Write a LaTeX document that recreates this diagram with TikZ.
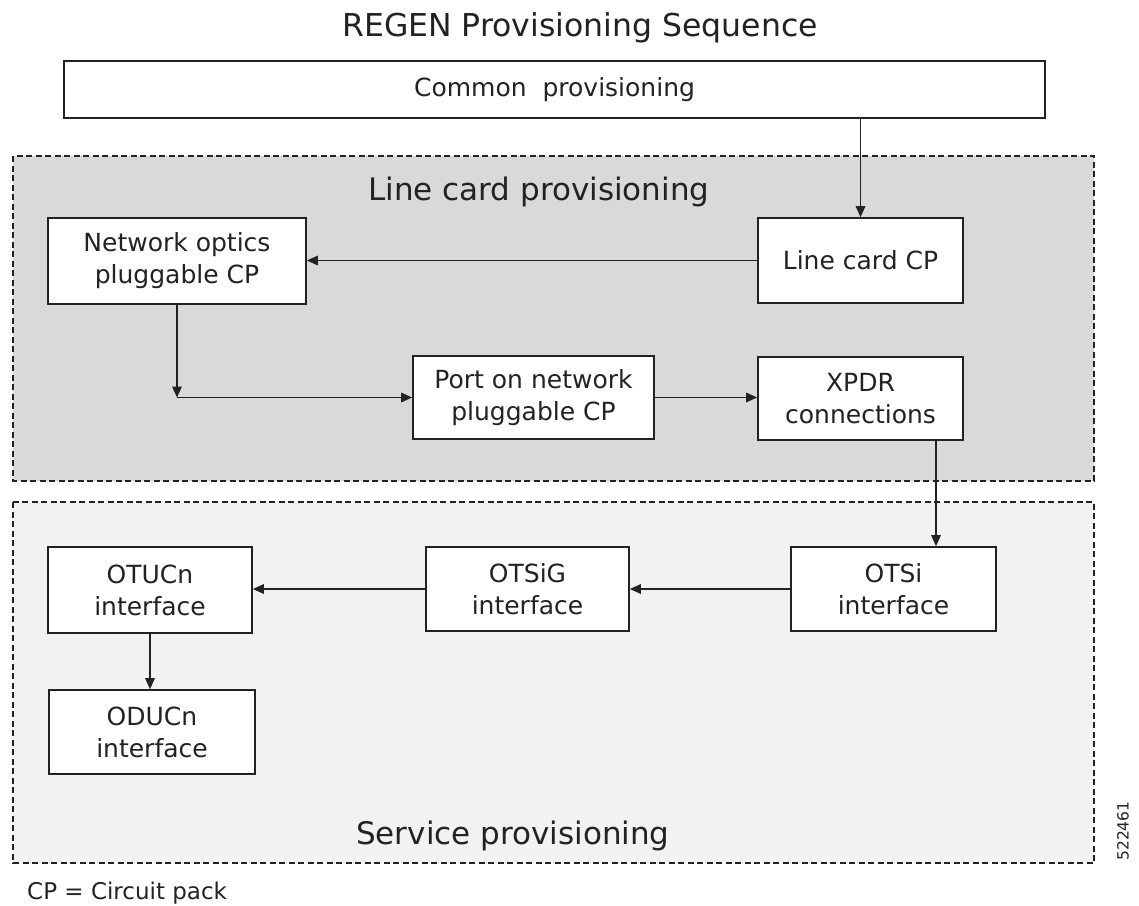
\documentclass[tikz,border=0pt]{standalone}
\usepackage{fontspec}
\setmainfont{DejaVu Sans}
\usetikzlibrary{arrows.meta}
\definecolor{lcfill}{HTML}{D9D9D9}
\definecolor{spfill}{HTML}{F2F2F2}
\definecolor{ink}{HTML}{222222}
\begin{document}
\begin{tikzpicture}[x=1pt,y=-1pt,
  box/.style={draw=ink,line width=1.6pt,fill=white,inner sep=0pt,align=center,
    text=ink,font=\fontsize{25}{32}\selectfont},
  flow/.style={draw=ink,line width=1.5pt,-{Triangle[length=11pt,width=9.5pt]}},
  zone/.style={draw=ink,line width=1.3pt,dash pattern=on 6pt off 3.5pt},
  zonetitle/.style={anchor=base west,inner sep=0pt,text=ink,font=\fontsize{31}{36}\selectfont},
]
\useasboundingbox (0,0) rectangle (1139,905);

% provisioning zones
\filldraw[zone,fill=lcfill] (13,156) rectangle (1094,481);
\filldraw[zone,fill=spfill] (13,502) rectangle (1094,863);

% headings
\node[anchor=base,inner sep=0pt,text=ink,font=\fontsize{31.5}{36}\selectfont] (title) at (580,36) {REGEN Provisioning Sequence};
\node[zonetitle] (lctitle) at (368,200) {Line card provisioning};
\node[zonetitle] (sptitle) at (356,844) {Service provisioning};
\node[anchor=base west,inner sep=0pt,text=ink,font=\fontsize{23}{28}\selectfont] (note) at (27,899) {CP = Circuit pack};
\node[rotate=90,inner sep=0pt,text=ink,font=\fontsize{15.5}{18}\selectfont] (fignum) at (1123,831) {522461};

% steps
\node[box,minimum width=981pt,minimum height=57pt] (common) at (554.5,89.5) {Common~ provisioning};
\node[box,minimum width=258pt,minimum height=86pt] (netopt) at (177,261) {Network optics\\pluggable CP};
\node[box,minimum width=205pt,minimum height=85pt] (linecard) at (860.5,260.5) {Line card CP};
\node[box,minimum width=241pt,minimum height=83pt] (port) at (533.5,397.5) {Port on network\\pluggable CP};
\node[box,minimum width=205pt,minimum height=83pt] (xpdr) at (860.5,398.5) {XPDR\\connections};
\node[box,minimum width=204pt,minimum height=86pt] (otucn) at (150,590) {OTUCn\\interface};
\node[box,minimum width=203pt,minimum height=84pt] (otsig) at (527.5,589) {OTSiG\\interface};
\node[box,minimum width=205pt,minimum height=84pt] (otsi) at (893.5,589) {OTSi\\interface};
\node[box,minimum width=206pt,minimum height=84pt] (oducn) at (152,732) {ODUCn\\interface};

% connectors
\coordinate (bend) at (netopt.south |- port.west);
\coordinate (drop) at (936,0);
\draw[flow] (common.south -| linecard.north) -- (linecard.north);
\draw[flow] (linecard.west) -- (linecard.west -| netopt.east);
\draw[flow] (netopt.south) -- (bend);
\draw[flow] (bend) -- (port.west);
\draw[flow] (port.east) -- (port.east -| xpdr.west);
\draw[flow] (xpdr.south -| drop) -- (otsi.north -| drop);
\draw[flow] (otsi.west) -- (otsi.west -| otsig.east);
\draw[flow] (otsig.west) -- (otsig.west -| otucn.east);
\draw[flow] (otucn.south) -- (otucn.south |- oducn.north);
\end{tikzpicture}
\end{document}
